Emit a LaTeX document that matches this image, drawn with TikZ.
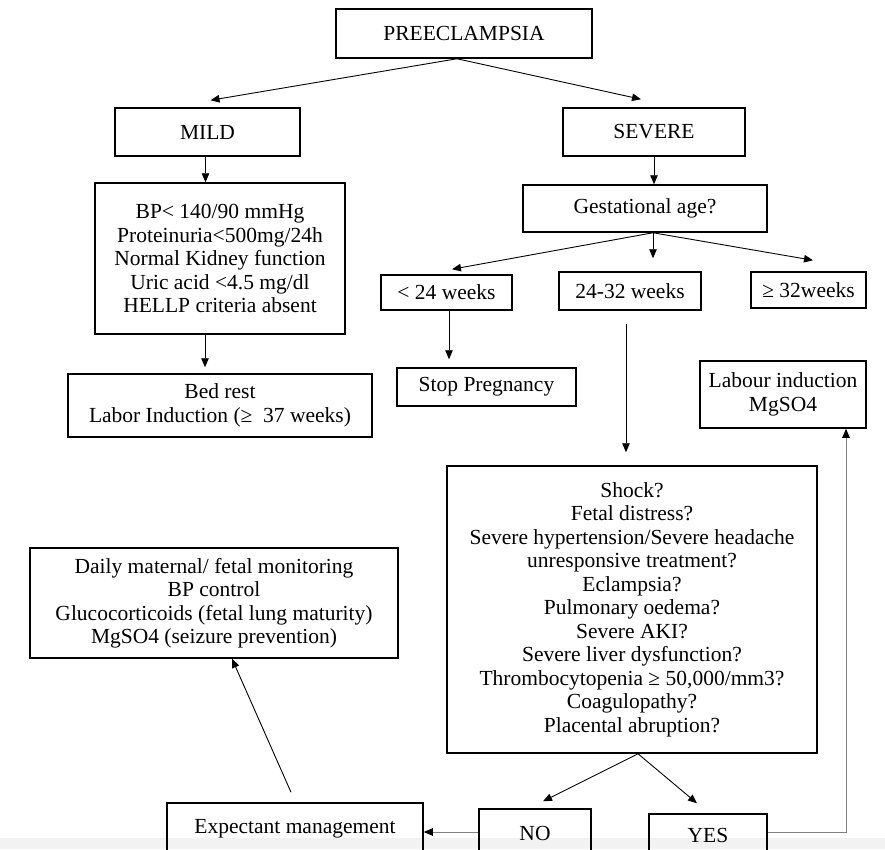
\documentclass[tikz,border=0pt]{standalone}
\usepackage{fontspec}
\setmainfont{Liberation Serif}
\usetikzlibrary{arrows.meta,calc}
\newcommand\dfont{\fontsize{21.5}{23.5}\selectfont}
\tikzset{
  box/.style={draw, line width=1.5pt, inner sep=0pt, align=center, font=\dfont},
  arr/.style={line width=0.9pt, -{Triangle[length=9pt,width=7.5pt]}},
  garr/.style={line width=1pt, draw=black!50, -{Triangle[length=9pt,width=7.5pt,color=black]}},
}
\begin{document}
\begin{tikzpicture}[x=1pt,y=-1pt]
\useasboundingbox (0,0) rectangle (885,849);
\fill[white] (0,0) rectangle (885,849);
\fill[black!5] (0,838) rectangle (885,849);

\node[box, minimum width=256pt, minimum height=49pt] (pre) at (464,33.5) {PREECLAMPSIA};
\node[box, minimum width=185pt, minimum height=48pt] (mild) at (207.5,132) {MILD};
\node[box, minimum width=182pt, minimum height=48pt] (sev) at (654,132) {SEVERE};
\node[box, minimum width=250pt, minimum height=151pt] (crit) at (220,258.5)
  {BP< 140/90 mmHg\\Proteinuria<500mg/24h\\Normal Kidney function\\Uric acid <4.5 mg/dl\\HELLP criteria absent};
\node[box, minimum width=304pt, minimum height=63pt] (bed) at (220,405.5)
  {Bed rest\\Labor Induction (≥\ \ 37 weeks)};
\node[box, minimum width=244pt, minimum height=47pt] (gest) at (645,208.5) {Gestational age?};
\node[box, minimum width=131pt, minimum height=35pt] (lt24) at (446.5,292.5) {< 24 weeks};
\node[box, minimum width=142pt, minimum height=38pt] (w2432) at (630,291) {24-32 weeks};
\node[box, minimum width=115pt, minimum height=36pt] (ge32) at (808.5,290) {≥ 32weeks};
\node[box, minimum width=179pt, minimum height=38pt] (stop) at (486.5,387) {Stop Pregnancy};
\node[box, minimum width=166pt, minimum height=67pt] (labour) at (783,394.5) {Labour induction\\MgSO4};
\node[box, minimum width=370pt, minimum height=287pt] (big) at (632,609.5)
  {Shock?\\Fetal distress?\\Severe hypertension/Severe headache\\unresponsive treatment?\\Eclampsia?\\Pulmonary oedema?\\Severe AKI?\\Severe liver dysfunction?\\Thrombocytopenia ≥ 50,000/mm3?\\Coagulopathy?\\Placental abruption?};
\node[box, minimum width=368pt, minimum height=110pt] (daily) at (214,603)
  {Daily maternal/ fetal monitoring\\BP control\\Glucocorticoids (fetal lung maturity)\\MgSO4 (seizure prevention)};
\node[box, minimum width=256pt, minimum height=52pt] (exp) at (295,829) {Expectant management};
\node[box, minimum width=112pt, minimum height=48pt] (no) at (535,833) {NO};
\node[box, minimum width=118pt, minimum height=42pt] (yes) at (708,835) {YES};

\draw[arr] ([xshift=-7pt]pre.south) -- ([xshift=3pt,yshift=7pt]mild.north);
\draw[arr] ([xshift=-7pt]pre.south) -- ([xshift=-13pt,yshift=8pt]sev.north);
\draw[arr] ([xshift=-2pt]mild.south) -- ([xshift=-2pt]mild.south |- crit.north);
\draw[arr] ([xshift=-15pt]crit.south) -- ([xshift=-15pt,yshift=6pt]bed.north);
\draw[arr] (sev.south) -- (sev.south |- gest.north);
\draw[arr] ([xshift=8pt]gest.south) -- ([xshift=5.5pt,yshift=5pt]lt24.north);
\draw[arr] ([xshift=8pt]gest.south) -- ([xshift=23pt,yshift=13pt]w2432.north);
\draw[arr] ([xshift=8pt]gest.south) -- ([xshift=4.5pt,yshift=11pt]ge32.north);
\draw[arr] ([xshift=2.5pt]lt24.south) -- ([xshift=-37.5pt,yshift=8pt]stop.north);
\draw[arr] ([xshift=-4pt,yshift=-13pt]w2432.south) -- ([xshift=-6pt,yshift=13pt]big.north);
\draw[arr] ([xshift=6pt]big.south) -- ([xshift=8pt,yshift=7pt]no.north);
\draw[arr] ([xshift=6pt]big.south) -- ([xshift=-11pt,yshift=10pt]yes.north);
\draw[garr] ([yshift=3pt]yes.east) -| ([xshift=63pt]labour.south);
\draw[garr] ([yshift=1pt]no.west) -- ([yshift=1pt]no.west -| exp.east);
\draw[arr] ([xshift=-4pt,yshift=10pt]exp.north) -- ([xshift=18pt]daily.south);
\end{tikzpicture}
\end{document}
